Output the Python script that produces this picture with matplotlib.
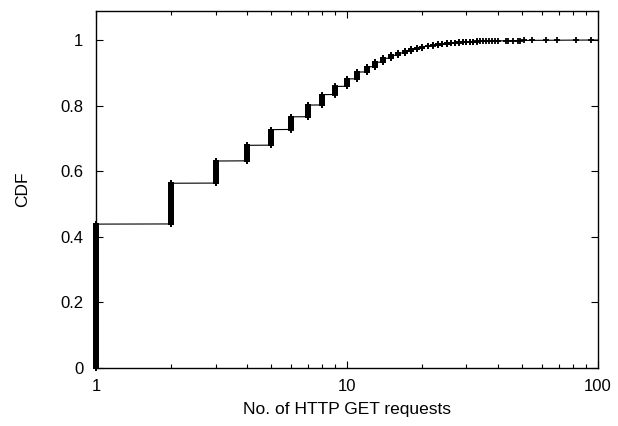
import numpy as np
import matplotlib
matplotlib.use("Agg")
import matplotlib.pyplot as plt
from matplotlib.ticker import FixedLocator, FixedFormatter, NullFormatter

plt.rcParams['font.family'] = ['Liberation Sans', 'DejaVu Sans']

# number of HTTP GET requests per client, and how many clients made that many
req_values = [1, 2, 3, 4, 5, 6, 7, 8, 9, 10,
              11, 12, 13, 14, 15, 16, 17, 18, 19, 20,
              21, 22, 23, 24, 25, 26, 27, 28, 29, 30,
              31, 32, 33, 34, 35, 36, 37, 38, 39, 40,
              43, 44, 46, 48, 49, 51, 55, 62, 69, 82, 94, 120]
req_counts = [1760, 500, 272, 192, 192, 156, 144, 128, 100, 92,
              84, 64, 56, 48, 36, 28, 28, 20, 16, 16,
              12, 8, 8, 6, 6, 4, 4, 4, 2, 2,
              2, 2, 2, 1, 1, 1, 1, 1, 1, 1,
              1, 1, 1, 1, 1, 1, 1, 1, 1, 1, 1, 1]

y_ticks = [0, 0.2, 0.4, 0.6, 0.8, 1]
y_labels = ['0', '0.2', '0.4', '0.6', '0.8', '1']
x_ticks = [1, 10, 100]
x_labels = ['1', '10', '100']

# empirical CDF: one point per sample, sorted
samples = np.repeat(req_values, req_counts)
cdf = np.arange(1, len(samples) + 1) / len(samples)

fig = plt.figure(figsize=(6.18, 4.26), dpi=100)
ax = fig.add_axes([0.1553, 0.1362, 0.967 - 0.1553, 0.974 - 0.1362])

ax.plot(samples, cdf, '-', color='black', linewidth=0.8)
inside = samples <= 100
ax.plot(samples[inside], cdf[inside], '+', color='black',
        markersize=4.5, markeredgewidth=1.3, clip_on=False)

ax.set_xscale('log')
ax.set_xlim(1, 100)
ax.set_ylim(0, 1.088)

ax.xaxis.set_major_locator(FixedLocator(x_ticks))
ax.xaxis.set_major_formatter(FixedFormatter(x_labels))
ax.xaxis.set_minor_locator(FixedLocator([2, 3, 4, 5, 6, 7, 8, 9,
                                         20, 30, 40, 50, 60, 70, 80, 90]))
ax.xaxis.set_minor_formatter(NullFormatter())
ax.set_yticks(y_ticks)
ax.set_yticklabels(y_labels)

ax.tick_params(which='both', direction='in', top=True, right=True,
               labelsize=12, width=0.8)
ax.tick_params(which='major', length=5)
ax.tick_params(which='minor', length=3)
ax.tick_params(axis='x', which='both', pad=8)
ax.tick_params(axis='y', which='both', pad=9)
for s in ax.spines.values():
    s.set_linewidth(1.0)

ax.set_xlabel('No. of HTTP GET requests', fontsize=12.5, labelpad=6)
ax.set_ylabel('CDF', fontsize=12.5, labelpad=22)

fig.savefig('out.png', dpi=100)
